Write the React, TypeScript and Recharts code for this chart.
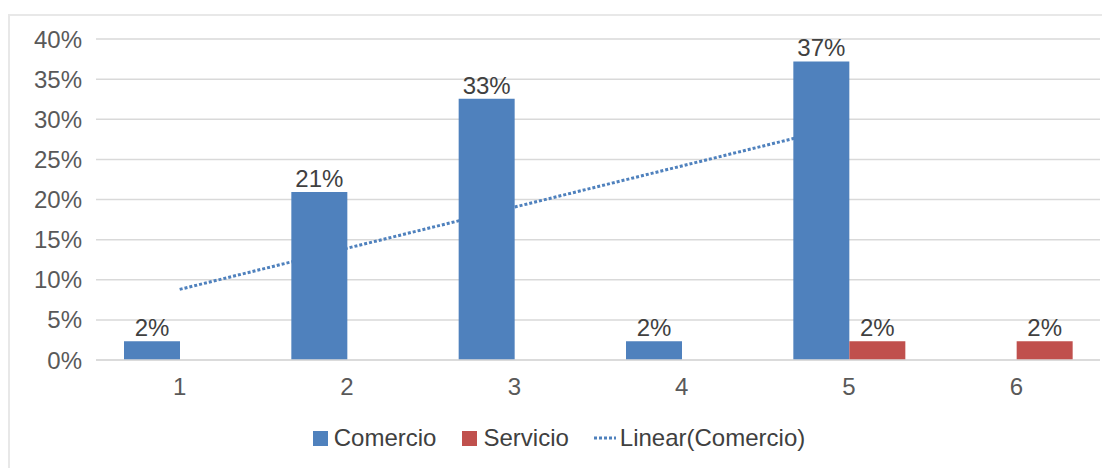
import React from 'react';
import { ComposedChart, Bar, Line, XAxis, YAxis, CartesianGrid, Legend, LabelList } from 'recharts';

const categories = ['1', '2', '3', '4', '5', '6'];
const comercio: (number | null)[] = [2.33, 20.93, 32.56, 2.33, 37.21, null];
const servicio: (number | null)[] = [null, null, null, null, 2.33, 2.33];
const trendComercio: (number | null)[] = [8.8, null, null, null, 29.3, null];
const yTicks = [0, 5, 10, 15, 20, 25, 30, 35, 40];

const data = categories.map((c, i) => ({
  cat: c,
  comercio: comercio[i],
  servicio: servicio[i],
  trend: trendComercio[i],
}));

const FONT = '"Liberation Sans", Arial, sans-serif';
const BLUE = '#4F81BD';
const RED = '#C0504D';

const fmtLabel = (v: any) => (v === null || v === undefined ? '' : `${Math.round(Number(v))}%`);

const LegendContent = () => (
  <div
    style={{
      display: 'flex',
      justifyContent: 'center',
      alignItems: 'center',
      fontFamily: FONT,
      fontSize: 24,
      color: '#404040',
      width: '100%',
    }}
  >
    <span style={{ display: 'inline-block', width: 15, height: 15, background: BLUE, marginRight: 6 }} />
    <span style={{ marginRight: 26 }}>Comercio</span>
    <span style={{ display: 'inline-block', width: 15, height: 15, background: RED, marginRight: 6 }} />
    <span style={{ marginRight: 24 }}>Servicio</span>
    <svg width={24} height={14} style={{ marginRight: 3 }}>
      <line x1={1} y1={7} x2={23} y2={7} stroke={BLUE} strokeWidth={3} strokeDasharray="3 2" />
    </svg>
    <span>Linear(Comercio)</span>
  </div>
);

export default function App() {
  return (
    <div style={{ position: 'relative', width: 1102, height: 460 }}>
      <div
        style={{
          position: 'absolute',
          top: 6,
          left: 0,
          width: 1102,
          height: 454,
          borderTop: '2px solid #e8e8e8',
          borderLeft: '2px solid #e8e8e8',
          boxSizing: 'border-box',
        }}
      />
      <ComposedChart
        width={1102}
        height={460}
        data={data}
        margin={{ top: 31, right: 10, left: 8, bottom: 68 }}
        barGap={0}
        style={{ position: 'absolute', top: 0, left: 0 }}
      >
        <CartesianGrid vertical={false} stroke="#d9d9d9" strokeWidth={1.5} />
        <XAxis
          dataKey="cat"
          axisLine={{ stroke: '#d9d9d9', strokeWidth: 1.5 }}
          tickLine={false}
          tickMargin={12}
          height={40}
          tick={{ fill: '#595959', fontSize: 24, fontFamily: FONT }}
        />
        <YAxis
          domain={[0, 40]}
          ticks={yTicks}
          tickFormatter={(v: number) => `${v}%`}
          axisLine={false}
          tickLine={false}
          tickMargin={8}
          width={80}
          tick={{ fill: '#595959', fontSize: 24, fontFamily: FONT }}
        />
        <Legend
          layout="horizontal"
          align="center"
          verticalAlign="middle"
          content={<LegendContent />}
          wrapperStyle={{ top: 416, left: 0, width: 1102 }}
        />
        <Line
          dataKey="trend"
          stroke={BLUE}
          strokeWidth={3}
          strokeDasharray="3 2"
          dot={false}
          activeDot={false}
          connectNulls
          isAnimationActive={false}
          legendType="none"
          zIndex={250}
        />
        <Bar dataKey="comercio" fill={BLUE} barSize={56} isAnimationActive={false}>
          <LabelList dataKey="comercio" position="top" formatter={fmtLabel} fill="#404040" fontSize={24} fontFamily={FONT} />
        </Bar>
        <Bar dataKey="servicio" fill={RED} barSize={56} isAnimationActive={false}>
          <LabelList dataKey="servicio" position="top" formatter={fmtLabel} fill="#404040" fontSize={24} fontFamily={FONT} />
        </Bar>
      </ComposedChart>
    </div>
  );
}
